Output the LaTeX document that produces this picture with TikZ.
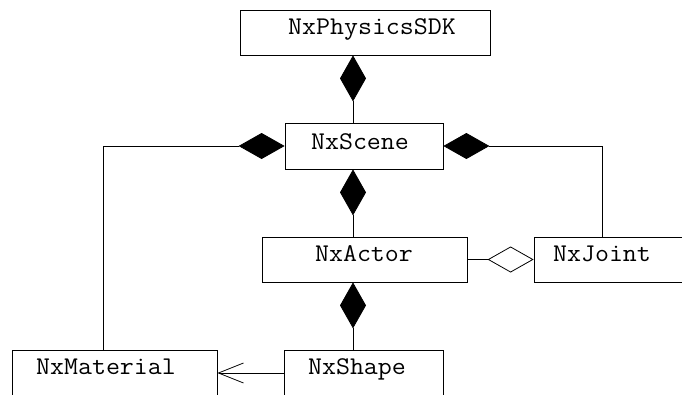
\documentclass[tikz,border=0pt]{standalone}
\usepackage{fontspec}
\setmonofont{Latin Modern Mono}[FakeStretch=1.065]
\usetikzlibrary{arrows.meta,calc}
\tikzset{
  cls/.style={draw, line width=0.8pt, rectangle, inner sep=0pt, fill=white},
  lbl/.style={font=\ttfamily\fontsize{25.5}{28}\selectfont, inner sep=0pt, anchor=base},
  conn/.style={line width=0.8pt},
  comp/.style={conn, -{Diamond[length=46pt,width=26pt]}},
  aggr/.style={conn, -{Diamond[open,length=46pt,width=26pt,fill=white]}},
  nav/.style={conn, -{Straight Barb[length=25pt,width=20pt,line width=0.8pt]}}
}
\begin{document}
\begin{tikzpicture}[x=1pt,y=-1pt]
\useasboundingbox (0,0) rectangle (682,394);
\clip (0,0) rectangle (682,394);
% boxes
\node[cls, minimum width=250pt, minimum height=45pt] (sdk) at (365,32.5) {};
\node[cls, minimum width=158pt, minimum height=46pt] (scene) at (364,146) {};
\node[cls, minimum width=205pt, minimum height=45pt] (actor) at (364.5,259.5) {};
\node[cls, minimum width=170pt, minimum height=45pt] (joint) at (619,259.5) {};
\node[cls, minimum width=205pt, minimum height=60pt] (mat) at (114.5,380) {};
\node[cls, minimum width=159pt, minimum height=60pt] (shape) at (363.5,380) {};
% labels
\node[lbl] (tsdk) at (372,34) {NxPhysicsSDK};
\node[lbl] (tscene) at (360,149) {NxScene};
\node[lbl] (tactor) at (364,261) {NxActor};
\node[lbl] (tjoint) at (602,261) {NxJoint};
\node[lbl] (tmat) at (106,374) {NxMaterial};
\node[lbl] (tshape) at (357,374) {NxShape};
% connectors
\coordinate (matcorner) at (103,350);
\draw[comp] (scene.north -| 353,0) -- (sdk.south -| 353,0);
\draw[comp] (actor.north -| 353,0) -- (scene.south -| 353,0);
\draw[comp] (shape.north -| 353,0) -- (actor.south -| 353,0);
\draw[comp] (matcorner) |- (scene.west);
\draw[comp] (joint.north -| 602,0) |- (scene.east);
\draw[aggr] (actor.east) -- (joint.west);
\draw[nav] (shape.west |- 0,373) -- (mat.east |- 0,373);
\end{tikzpicture}
\end{document}
